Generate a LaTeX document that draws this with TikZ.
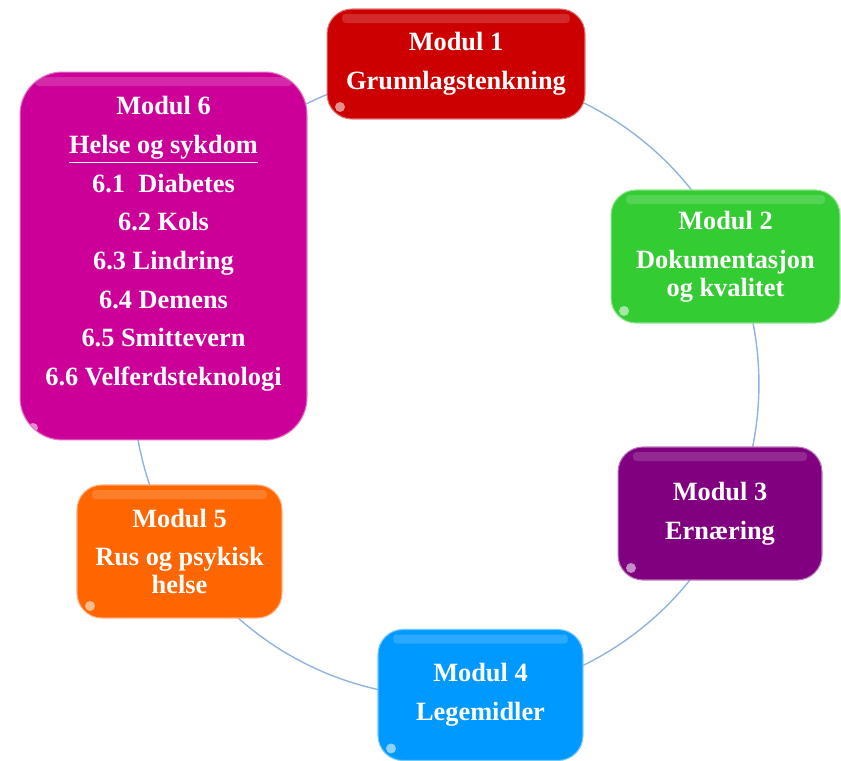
\documentclass[tikz,border=0pt]{standalone}
\usepackage{fontspec}
\setmainfont{Liberation Serif}
\definecolor{modulred}{HTML}{CC0000}
\definecolor{modulgreen}{HTML}{33CC33}
\definecolor{modulpurple}{HTML}{800080}
\definecolor{modulblue}{HTML}{0099FF}
\definecolor{modulorange}{HTML}{FF6600}
\definecolor{modulmagenta}{HTML}{CC0099}
\definecolor{ringblue}{HTML}{8DB4E2}
\tikzset{
	modul/.style={
		rectangle,
		align=center,
		inner sep=0pt,
		rounded corners=.5cm,
		fill=#1,
		draw=#1!55!white,
		line width=.6pt,
		text=white,
		font=\bfseries\fontsize{15}{16}\selectfont,
		path picture={
			\fill[white, opacity=.16, rounded corners=2pt] ([xshift=.3cm, yshift=-.1cm]path picture bounding box.north west) rectangle ([xshift=-.3cm, yshift=-.28cm]path picture bounding box.north east);
			\fill[white, opacity=.55] ([xshift=.26cm, yshift=.24cm]path picture bounding box.south west) circle (.1cm);
		}
	},
	modultext/.style={
		align=center,
		inner sep=0pt,
		text=white,
		font=\bfseries\fontsize{15}{16}\selectfont
	},
	ring/.style={draw=ringblue, line width=.8pt}
}

\begin{document}
\begin{tikzpicture}[x=.02cm, y=-.02cm]
	\useasboundingbox (0,0) rectangle (841,760);

	% ring behind the modules
	\coordinate (Ring) at (446,384);
	\draw [ring] (Ring) circle[radius=6.26cm];

	\draw node[modul=modulred, minimum width=5.16cm, minimum height=2.2cm](Grunnlag) at (456,64) {Modul 1\\[6pt] Grunnlagstenkning};
	\draw node[modul=modulgreen, minimum width=4.58cm, minimum height=2.66cm](Dokumentasjon) at (725.5,256.5) {Modul 2\\[6pt] Dokumentasjon\\ og kvalitet};
	\draw node[modul=modulpurple, minimum width=4.08cm, minimum height=2.66cm](Ernaering) at (720,513.5) {Modul 3\\[6pt] Ern\ae ring};
	\draw node[modul=modulblue, minimum width=4.1cm, minimum height=2.62cm](Legemidler) at (480.5,695) {Modul 4\\[6pt] Legemidler};
	\draw node[modul=modulorange, minimum width=4.1cm, minimum height=2.66cm](Rus) at (179.5,551.5) {Modul 5\\[6pt] Rus og psykisk\\ helse};
	\draw node[modul=modulmagenta, rounded corners=.85cm, minimum width=5.74cm, minimum height=7.36cm](Helse) at (163.5,256) {};
	\draw node[modultext](HelseText) at (163.5,244) {Modul 6\\[6pt] \underline{Helse og sykdom}\\[6pt] 6.1\ \ Diabetes\\[6pt] 6.2 Kols\\[6pt] 6.3 Lindring\\[6pt] 6.4 Demens\\[6pt] 6.5 Smittevern\\[6pt] 6.6 Velferdsteknologi};
\end{tikzpicture}
\end{document}
